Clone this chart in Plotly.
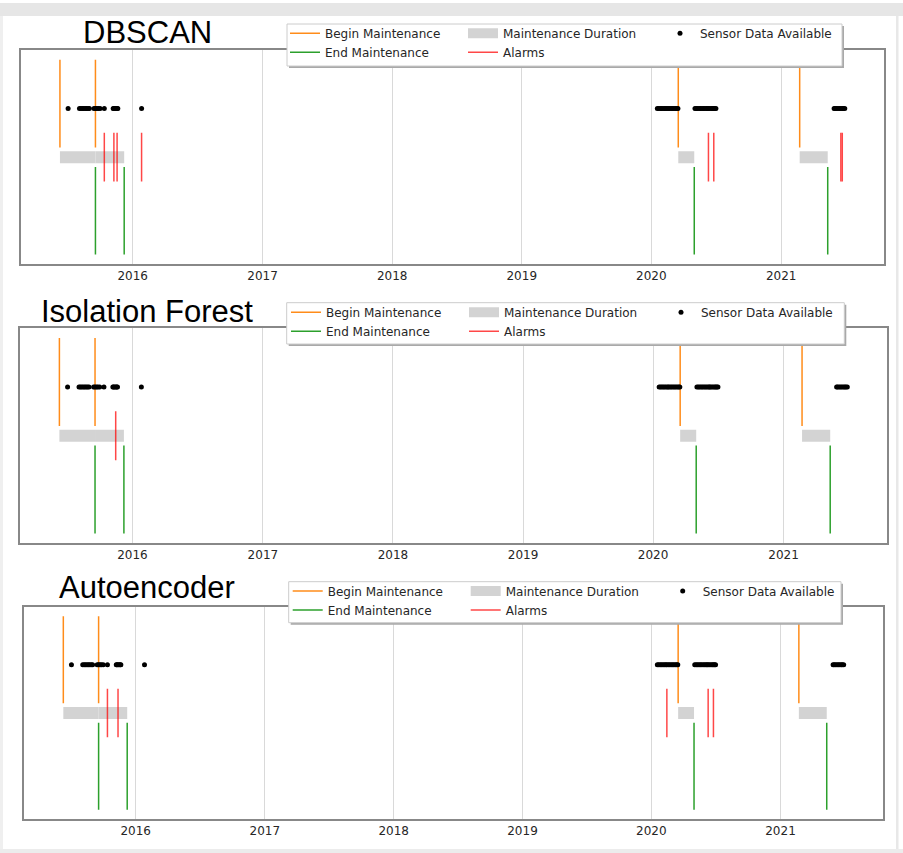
import pandas as pd
import plotly.graph_objects as go

# ---- data -------------------------------------------------------------
method_names = ["DBSCAN", "Isolation Forest", "Autoencoder"]
year_ticks = [2016, 2017, 2018, 2019, 2020, 2021]

maintenance_begin = ["2015-06-10", "2015-09-18", "2020-03-17", "2021-02-22"]
maintenance_end = ["2015-09-18", "2015-12-08", "2020-05-01", "2021-05-12"]

sensor_dates = [
    "2015-07-03",
    "2015-08-04", "2015-08-08", "2015-08-12", "2015-08-16", "2015-08-20",
    "2015-08-24", "2015-08-28", "2015-09-01",
    "2015-09-14", "2015-09-18", "2015-09-22", "2015-09-26", "2015-10-01",
    "2015-10-13",
    "2015-11-07", "2015-11-09", "2015-11-12", "2015-11-15", "2015-11-18",
    "2015-11-20",
    "2016-01-26",
    "2020-01-18", "2020-01-22", "2020-01-26", "2020-01-30", "2020-02-03",
    "2020-02-07", "2020-02-11", "2020-02-14", "2020-02-18", "2020-02-22",
    "2020-02-26", "2020-03-01", "2020-03-05", "2020-03-09", "2020-03-13",
    "2020-03-16",
    "2020-05-03", "2020-05-07", "2020-05-11", "2020-05-15", "2020-05-19",
    "2020-05-23", "2020-05-27", "2020-05-31", "2020-06-04", "2020-06-07",
    "2020-06-10", "2020-06-14", "2020-06-18", "2020-06-22", "2020-06-25",
    "2020-06-28", "2020-07-01",
    "2021-05-30", "2021-06-02", "2021-06-06", "2021-06-10", "2021-06-14",
    "2021-06-18", "2021-06-22", "2021-06-25", "2021-06-29",
]

alarms_dbscan = ["2015-10-13", "2015-11-09", "2015-11-18", "2016-01-26",
                 "2020-06-10", "2020-06-25", "2021-06-18", "2021-06-22"]
alarms_iforest = ["2015-11-15"]
alarms_autoencoder = ["2015-10-13", "2015-11-12", "2020-02-14",
                      "2020-06-10", "2020-06-25"]

alarm_sets = [alarms_dbscan, alarms_iforest, alarms_autoencoder]

# ---- page geometry (pixels) -------------------------------------------
W, H = 903, 853
axes_boxes = [(20.7, 50.0, 884.0, 264.3),
              (20.0, 328.3, 886.7, 543.3),
              (24.3, 606.7, 882.7, 819.3)]
legend_frames = [(287.0, 24.0, 842.0, 66.0),
                 (286.7, 302.7, 844.3, 344.0),
                 (288.7, 581.7, 841.0, 622.7)]
legend_text_x = [325.0, 326.0, 327.7]
legend_row_y = [33.3, 312.3, 591.0]
title_pos = [(147, 32.5), (146.5, 311.7), (147, 587.0)]

C_BEGIN = "#ff8c1a"
C_END = "#2ca02c"
C_BAR = "#d3d3d3"
C_ALARM = "rgba(255,0,0,0.72)"
TEXT = "#262626"


def px(x):
    return x / W


def py(y):
    return 1 - y / H


def segments(dates, y0, y1):
    xs, ys = [], []
    for d in dates:
        xs += [d, d, None]
        ys += [y0, y1, None]
    return xs, ys


def spans(starts, ends, y):
    xs, ys = [], []
    for s, e in zip(starts, ends):
        xs += [s, e, None]
        ys += [y, y, None]
    return xs, ys


fig = go.Figure()
shapes = []
annotations = []
layout_axes = {}
legends = {}

# page chrome
shapes += [
    dict(type="rect", xref="paper", yref="paper", x0=0, x1=1, y0=py(16), y1=py(3),
         fillcolor="#e6e6e6", line_width=0, layer="below"),
    dict(type="rect", xref="paper", yref="paper", x0=0, x1=px(3), y0=0, y1=py(16),
         fillcolor="#efefef", line_width=0, layer="below"),
    dict(type="rect", xref="paper", yref="paper", x0=px(896), x1=px(898.5), y0=0, y1=py(16),
         fillcolor="#e8e8e8", line_width=0, layer="below"),
    dict(type="rect", xref="paper", yref="paper", x0=0, x1=1, y0=0, y1=py(849),
         fillcolor="#ececec", line_width=0, layer="below"),
]

for i, name in enumerate(method_names):
    n = i + 1
    sfx = "" if n == 1 else str(n)
    xa, ya = f"x{sfx}", f"y{sfx}"
    leg = "legend" if n == 1 else f"legend{n}"
    alarms = alarm_sets[i]

    common = dict(xaxis=xa, yaxis=ya, legend=leg, hoverinfo="x")

    bx, by = segments(maintenance_begin, 0.1, 1.0)
    fig.add_trace(go.Scatter(x=bx, y=by, mode="lines", name="Begin Maintenance",
                             line=dict(color=C_BEGIN, width=1.5),
                             legendgroup=f"c1_{n}", legendwidth=133, **common))
    ex, ey = segments(maintenance_end, -1.0, -0.1)
    fig.add_trace(go.Scatter(x=ex, y=ey, mode="lines", name="End Maintenance",
                             line=dict(color=C_END, width=1.5),
                             legendgroup=f"c1_{n}", legendwidth=133, **common))
    mx, my = spans(maintenance_begin, maintenance_end, 0.0)
    fig.add_trace(go.Scatter(x=mx, y=my, mode="lines", name="Maintenance Duration",
                             line=dict(color=C_BAR, width=12),
                             legendgroup=f"c2_{n}", legendwidth=152, **common))
    ax_, ay_ = segments(alarms, -0.25, 0.25)
    fig.add_trace(go.Scatter(x=ax_, y=ay_, mode="lines", name="Alarms",
                             line=dict(color=C_ALARM, width=1.5),
                             legendgroup=f"c2_{n}", legendwidth=152, **common))
    fig.add_trace(go.Scatter(x=sensor_dates, y=[0.5] * len(sensor_dates),
                             mode="markers", name="Sensor Data Available",
                             marker=dict(color="black", size=5),
                             legendgroup=f"c3_{n}", **common))

    # x range: data extent padded by 5% on each side
    all_dates = pd.to_datetime(maintenance_begin + maintenance_end + sensor_dates + alarms)
    lo, hi = all_dates.min(), all_dates.max()
    pad = (hi - lo) * 0.05
    x0, y0, x1, y1 = axes_boxes[i]

    layout_axes[f"xaxis{sfx}"] = dict(
        domain=[px(x0), px(x1)], anchor=ya, type="date",
        range=[lo - pad, hi + pad],
        tickvals=[f"{yr}-01-01" for yr in year_ticks],
        ticktext=[str(yr) for yr in year_ticks],
        ticks="", showgrid=True, gridcolor="#d9d9d9", gridwidth=1,
        showline=True, mirror=True, linecolor="#888888", linewidth=1.5,
        zeroline=False, automargin=False,
        tickfont=dict(family="DejaVu Sans", size=12, color=TEXT),
    )
    layout_axes[f"yaxis{sfx}"] = dict(
        domain=[py(y1), py(y0)], anchor=xa, range=[-1.1, 1.1],
        showticklabels=False, ticks="", showgrid=False, zeroline=False,
        showline=True, mirror=True, linecolor="#888888", linewidth=1.5,
        automargin=False, fixedrange=True,
    )

    # legend frame with a soft drop shadow
    lx0, ly0, lx1, ly1 = legend_frames[i]
    shapes.append(dict(type="rect", xref="paper", yref="paper",
                       x0=px(lx0 + 2), x1=px(lx1 + 2), y0=py(ly1 + 2), y1=py(ly0 + 2),
                       fillcolor="#a9a9a9", line_width=0, layer="above"))
    shapes.append(dict(type="rect", xref="paper", yref="paper",
                       x0=px(lx0), x1=px(lx1), y0=py(ly1), y1=py(ly0),
                       fillcolor="white", line=dict(color="#cccccc", width=1),
                       layer="above"))

    legends[leg] = dict(
        orientation="h", traceorder="grouped", groupclick="toggleitem",
        x=px(legend_text_x[i] - 40), xanchor="left",
        y=py(legend_row_y[i] - 14.5), yanchor="top",
        bgcolor="rgba(0,0,0,0)", borderwidth=0, tracegroupgap=0,
        font=dict(family="DejaVu Sans", size=12, color=TEXT),
    )

    tx, ty = title_pos[i]
    annotations.append(dict(text=name, xref="paper", yref="paper",
                            x=px(tx), y=py(ty), xanchor="center", yanchor="middle",
                            showarrow=False,
                            font=dict(family="Liberation Sans", size=31, color="black")))

fig.update_layout(
    width=W, height=H,
    margin=dict(l=0, r=0, t=0, b=0),
    paper_bgcolor="white", plot_bgcolor="white",
    shapes=shapes, annotations=annotations,
    **layout_axes, **legends,
)

fig.write_html("out.html")
